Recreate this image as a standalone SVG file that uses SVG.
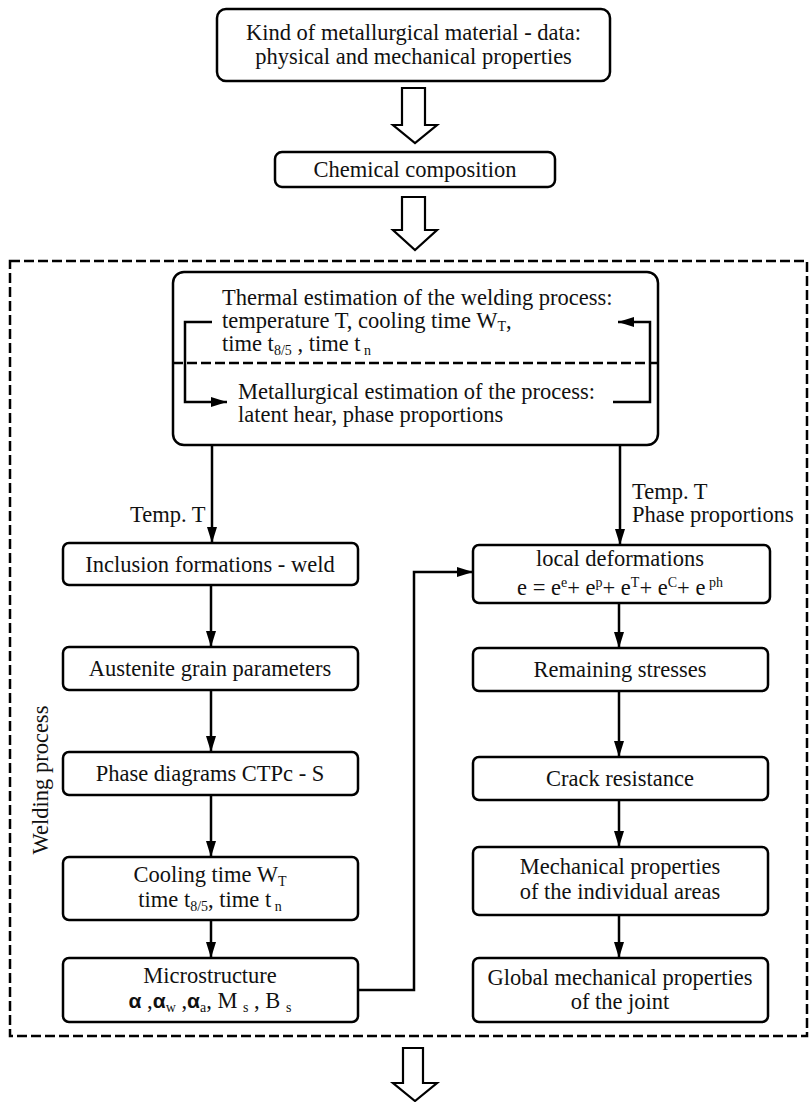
<svg xmlns="http://www.w3.org/2000/svg" width="811" height="1102" viewBox="0 0 811 1102">
<style>
.box{fill:#fff;stroke:#000;stroke-width:2.5}
.t{font-family:"Liberation Serif","Times New Roman",serif;font-size:22.5px;fill:#111}
.c{text-anchor:middle}
.sub{font-size:14px}
.ln{fill:none;stroke:#000;stroke-width:2.5}
.hollow{fill:#fff;stroke:#000;stroke-width:2.2;stroke-linejoin:miter}
.dash{fill:none;stroke:#000;stroke-width:2.5;stroke-dasharray:10 4}
.al{font-family:"Liberation Sans",Arial,sans-serif;font-weight:bold;font-size:21px}
</style>
<defs>
<marker id="ah" viewBox="0 0 16 10" refX="16" refY="5" markerWidth="16" markerHeight="10" markerUnits="userSpaceOnUse" orient="auto">
<path d="M0,0 L16,5 L0,10 z" fill="#000"/>
</marker>
</defs>

<rect class="dash" x="10" y="261" width="797" height="775"/>

<g id="n-material">
<rect class="box" x="217" y="9" width="393" height="72" rx="9"/>
<text class="t c" x="413.5" y="40">Kind of metallurgical material - data:</text>
<text class="t c" x="413.5" y="64">physical and mechanical properties</text>
</g>
<g id="n-chem">
<rect class="box" x="275" y="152" width="280" height="35" rx="7"/>
<text class="t c" x="415" y="177">Chemical composition</text>
</g>
<g id="n-thermal">
<rect class="box" x="173" y="272" width="485" height="173" rx="11"/>
<line class="dash" x1="173" y1="363" x2="658" y2="363"/>
<text class="t" x="222" y="305">Thermal estimation of the welding process:</text>
<text class="t" x="222" y="328">temperature T, cooling time W<tspan class="sub" dy="3">T</tspan><tspan dy="-3">,</tspan></text>
<text class="t" x="222" y="351">time t<tspan class="sub" dy="4">8/5</tspan><tspan dy="-4"> , time t</tspan><tspan class="sub" dy="4"> n</tspan></text>
<text class="t" x="238" y="399">Metallurgical estimation of the process:</text>
<text class="t" x="238" y="422">latent hear, phase proportions</text>
</g>
<g id="n-incl">
<rect class="box" x="63" y="543" width="295" height="42" rx="6"/>
<text class="t c" x="210" y="572">Inclusion formations - weld</text>
</g>
<g id="n-aust">
<rect class="box" x="63" y="647" width="295" height="43" rx="6"/>
<text class="t c" x="210" y="676">Austenite grain parameters</text>
</g>
<g id="n-phase">
<rect class="box" x="63" y="752" width="295" height="43" rx="6"/>
<text class="t c" x="210" y="781">Phase diagrams CTPc - S</text>
</g>
<g id="n-cool">
<rect class="box" x="63" y="857" width="295" height="63" rx="6"/>
<text class="t c" x="210" y="882">Cooling time W<tspan class="sub" dy="4">T</tspan></text>
<text class="t c" x="210" y="907">time t<tspan class="sub" dy="4">8/5</tspan><tspan dy="-4">, time t</tspan><tspan class="sub" dy="4"> n</tspan></text>
</g>
<g id="n-micro">
<rect class="box" x="63" y="958" width="295" height="64" rx="6"/>
<text class="t c" x="210" y="983">Microstructure</text>
<text class="t c" x="210" y="1008"><tspan class="al">α</tspan> ,<tspan class="al">α</tspan><tspan class="sub" dy="4">w</tspan><tspan dy="-4"> ,</tspan><tspan class="al">α</tspan><tspan class="sub" dy="4">a</tspan><tspan dy="-4">, M </tspan><tspan class="sub" dy="4">s</tspan><tspan dy="-4"> , B </tspan><tspan class="sub" dy="4">s</tspan></text>
</g>
<g id="n-local">
<rect class="box" x="473" y="545" width="297" height="58" rx="6"/>
<text class="t c" x="620" y="566">local deformations</text>
<text class="t c" x="620" y="595">e = e<tspan class="sub" dy="-8">e</tspan><tspan dy="8">+ e</tspan><tspan class="sub" dy="-8">p</tspan><tspan dy="8">+ e</tspan><tspan class="sub" dy="-8">T</tspan><tspan dy="8">+ e</tspan><tspan class="sub" dy="-8">C</tspan><tspan dy="8">+ e</tspan><tspan class="sub" dy="-8"> ph</tspan></text>
</g>
<g id="n-remain">
<rect class="box" x="473" y="648" width="295" height="43" rx="6"/>
<text class="t c" x="620" y="677">Remaining stresses</text>
</g>
<g id="n-crack">
<rect class="box" x="473" y="757" width="295" height="43" rx="6"/>
<text class="t c" x="620" y="786">Crack resistance</text>
</g>
<g id="n-mech">
<rect class="box" x="473" y="847" width="295" height="68" rx="6"/>
<text class="t c" x="620" y="874">Mechanical properties</text>
<text class="t c" x="620" y="899">of the individual areas</text>
</g>
<g id="n-global">
<rect class="box" x="473" y="958" width="295" height="64" rx="6"/>
<text class="t c" x="620" y="985">Global mechanical properties</text>
<text class="t c" x="620" y="1009">of the joint</text>
</g>

<text class="t c" transform="translate(48,780) rotate(-90)">Welding process</text>

<g id="connectors">
<path class="hollow" d="M402,88 H425 V125 H437 L415,143 L393,125 H402 Z"/>
<path class="hollow" d="M402,197 H425 V230 H437 L415,250 L393,230 H402 Z"/>
<path class="hollow" d="M403,1048 H423 V1083 H437 L415,1101 L393,1083 H403 Z"/>
<path class="ln" d="M212,322 H185 V402 H227" marker-end="url(#ah)"/>
<path class="ln" d="M613,402 H650 V322 H618" marker-end="url(#ah)"/>
<path class="ln" d="M212,445 V543" marker-end="url(#ah)"/>
<path class="ln" d="M620,445 V545" marker-end="url(#ah)"/>
<path class="ln" d="M211,585 V647" marker-end="url(#ah)"/>
<path class="ln" d="M211,690 V752" marker-end="url(#ah)"/>
<path class="ln" d="M211,795 V857" marker-end="url(#ah)"/>
<path class="ln" d="M211,920 V958" marker-end="url(#ah)"/>
<path class="ln" d="M358,990 H414 V572 H473" marker-end="url(#ah)"/>
<path class="ln" d="M619,603 V648" marker-end="url(#ah)"/>
<path class="ln" d="M619,691 V757" marker-end="url(#ah)"/>
<path class="ln" d="M619,800 V847" marker-end="url(#ah)"/>
<path class="ln" d="M619,915 V958" marker-end="url(#ah)"/>
<text class="t" x="130" y="522">Temp. T</text>
<text class="t" x="632" y="499">Temp. T</text>
<text class="t" x="632" y="522">Phase proportions</text>
</g>
</svg>
